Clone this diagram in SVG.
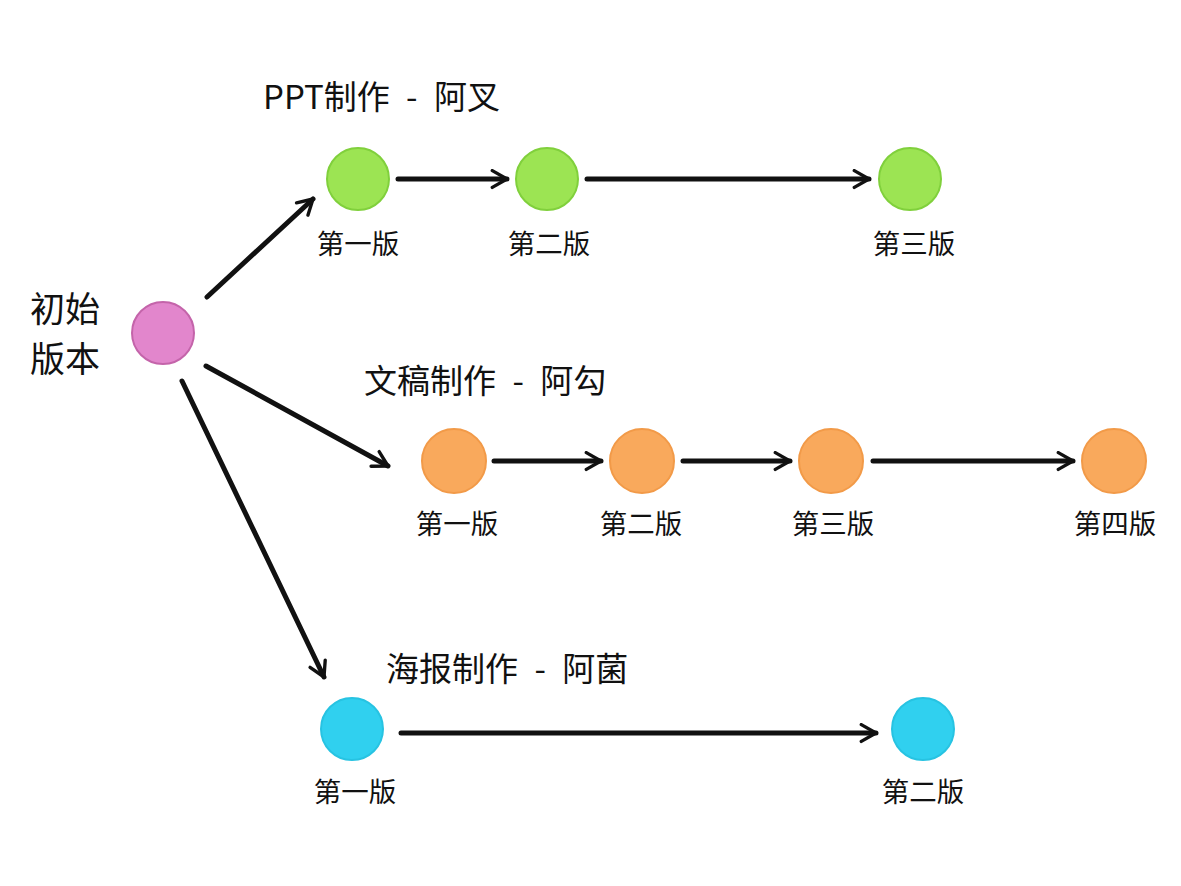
<svg xmlns="http://www.w3.org/2000/svg" width="1181" height="886" viewBox="0 0 1181 886">
<style>
.t{font-family:"Noto Sans CJK SC","Noto Sans",sans-serif;fill:#111}
.lab{font-size:27.5px;text-anchor:middle}
.ttl{font-size:33px;word-spacing:9px}
.c{stroke-width:2}
.g{fill:#9ce453;stroke:#80d03c}
.o{fill:#f9a95c;stroke:#f29a48}
.b{fill:#30d0ef;stroke:#27c3e2}
.p{fill:#e286cc;stroke:#c464aa}
.e{stroke:#111;stroke-width:5;fill:none;stroke-linecap:round;marker-end:url(#ah)}
</style>
<defs>
<marker id="ah" viewBox="0 0 10 10" refX="8" refY="5" markerWidth="4.2" markerHeight="4.2" orient="auto" markerUnits="strokeWidth">
<path d="M1,1 L8,5 L1,9" fill="none" stroke="#111" stroke-width="1.6" stroke-linecap="round" stroke-linejoin="round"/>
</marker>
</defs>
<rect width="1181" height="886" fill="#fff"/>
<g id="connectors">
<line class="e" x1="207" y1="297" x2="313" y2="199"/>
<line class="e" x1="206" y1="366" x2="388" y2="466"/>
<line class="e" x1="182" y1="381" x2="324" y2="677"/>
<line class="e" x1="398" y1="179" x2="507" y2="179"/>
<line class="e" x1="587" y1="179" x2="869" y2="179"/>
<line class="e" x1="494" y1="461" x2="601" y2="461"/>
<line class="e" x1="683" y1="461" x2="790" y2="461"/>
<line class="e" x1="873" y1="461" x2="1073" y2="461"/>
<line class="e" x1="401" y1="733" x2="876" y2="733"/>
</g>
<g id="start"><circle class="c p" cx="163" cy="333" r="31"/>
<text class="t" x="30" y="322" font-size="35">初始</text>
<text class="t" x="30" y="372" font-size="35">版本</text></g>
<g id="ppt-title"><text class="t ttl" x="263" y="109">PPT制作 - 阿叉</text></g>
<g id="ppt1"><circle class="c g" cx="358" cy="179" r="31"/><text class="t lab" x="358" y="254">第一版</text></g>
<g id="ppt2"><circle class="c g" cx="547" cy="179" r="31"/><text class="t lab" x="549" y="254">第二版</text></g>
<g id="ppt3"><circle class="c g" cx="910" cy="179" r="31"/><text class="t lab" x="914" y="254">第三版</text></g>
<g id="doc-title"><text class="t ttl" x="364" y="393">文稿制作 - 阿勾</text></g>
<g id="doc1"><circle class="c o" cx="454" cy="461" r="32"/><text class="t lab" x="457" y="534">第一版</text></g>
<g id="doc2"><circle class="c o" cx="642" cy="461" r="32"/><text class="t lab" x="641" y="534">第二版</text></g>
<g id="doc3"><circle class="c o" cx="831" cy="461" r="32"/><text class="t lab" x="833" y="534">第三版</text></g>
<g id="doc4"><circle class="c o" cx="1114" cy="461" r="32"/><text class="t lab" x="1115" y="534">第四版</text></g>
<g id="poster-title"><text class="t ttl" x="386" y="681">海报制作 - 阿菌</text></g>
<g id="poster1"><circle class="c b" cx="352" cy="729" r="31"/><text class="t lab" x="355" y="802">第一版</text></g>
<g id="poster2"><circle class="c b" cx="923" cy="729" r="31"/><text class="t lab" x="923" y="802">第二版</text></g>
</svg>
